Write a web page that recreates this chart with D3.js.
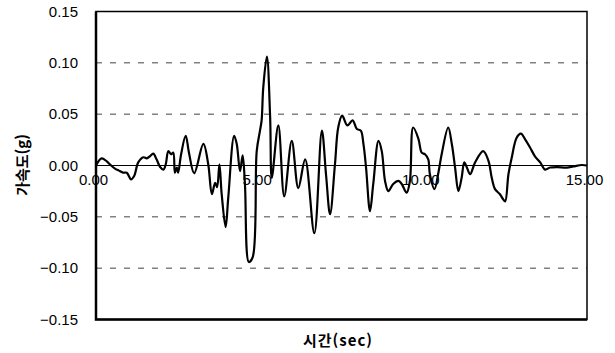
<!DOCTYPE html>
<html lang="ko">
<head>
<meta charset="utf-8">
<title>가속도 시간이력</title>
<script src="https://d3js.org/d3.v7.min.js"></script>
<style>
body { margin: 0; background: #fff; }
svg { display: block; }
.tick text { font-family: "Liberation Sans", Arial, sans-serif; font-size: 15px; fill: #000; }
.title { font-family: "Noto Sans CJK KR", sans-serif; font-size: 15px; font-weight: bold; fill: #000; }
</style>
</head>
<body>
<script>
// time (sec) and acceleration (g)
var times = [0, 0.17, 0.33, 0.43, 0.58, 0.70, 0.83, 0.94, 1.07, 1.17, 1.29, 1.45, 1.55, 1.65, 1.75, 1.85, 1.96, 2.06, 2.13, 2.21,
  2.29, 2.36, 2.41, 2.47, 2.51, 2.60, 2.74, 2.84, 3.00, 3.28, 3.43, 3.54, 3.64, 3.70, 3.77, 3.84, 3.96, 4.04, 4.22, 4.30,
  4.40, 4.48, 4.55, 4.67, 4.79, 4.91, 5.01, 5.06, 5.11, 5.22, 5.32, 5.37, 5.57, 5.75, 5.98, 6.18, 6.39, 6.67, 6.90, 7.03,
  7.15, 7.30, 7.40, 7.52, 7.68, 7.84, 7.97, 8.09, 8.17, 8.25, 8.37, 8.47, 8.63, 8.73, 8.83, 8.93, 9.08, 9.24, 9.34, 9.49,
  9.59, 9.69, 9.85, 9.95, 10.05, 10.15, 10.20, 10.34, 10.46, 10.56, 10.76, 10.87, 10.97, 11.07, 11.17, 11.25, 11.33, 11.43, 11.58, 11.83,
  11.99, 12.09, 12.19, 12.34, 12.44, 12.50, 12.60, 12.70, 12.85, 12.98, 13.11, 13.26, 13.41, 13.57, 13.72, 13.87, 14.08, 14.38, 14.58, 14.84, 15.00];
var accel = [0, 0.007, 0.004, 0.001, -0.003, -0.005, -0.007, -0.007, -0.0135, -0.010, 0.003, 0.008, 0.007, 0.009, 0.0115, 0.006, -0.0015, -0.004, 0.001, 0.014,
  0.011, 0.0125, -0.007, -0.002, -0.007, 0.011, 0.029, 0.0125, -0.0075, 0.021, 0.001, -0.028, -0.017, -0.021, 0.001, -0.028, -0.060, -0.0315, 0.029, 0.021,
  -0.0055, 0.010, -0.018, -0.094, -0.089, 0.014, 0.034, 0.044, 0.076, 0.106, 0.047, -0.012, 0.039, -0.030, 0.024, -0.022, 0.006, -0.066, 0.034, -0.010,
  -0.0475, 0.001, 0.037, 0.0485, 0.039, 0.044, 0.0355, 0.034, 0.021, -0.002, -0.0445, -0.018, 0.024, 0.014, -0.015, -0.025, -0.018, -0.015, -0.018, -0.0265,
  -0.015, 0.037, 0.026, 0.0125, 0.011, 0.006, -0.0085, -0.023, -0.007, 0.011, 0.037, 0.021, -0.002, -0.025, -0.012, 0.003, -0.002, -0.0085, 0.003, 0.014,
  0.0045, -0.012, -0.023, -0.028, -0.033, -0.035, -0.0085, 0.0075, 0.027, 0.031, 0.0255, 0.0175, 0.009, 0.003, -0.004, -0.002, -0.0015, -0.002, -0.001, 0.0005, 0];

var yTicks = [-0.15, -0.10, -0.05, 0.00, 0.05, 0.10, 0.15];
var xTicks = [0, 5, 10, 15];
var gridLines = [-0.10, -0.05, 0.05, 0.10];

var width = 615, height = 353;
var margin = {top: 11.5, right: 28, bottom: 33.5, left: 96};

var svg = d3.select("body").append("svg")
    .attr("width", width)
    .attr("height", height);

var x = d3.scaleLinear().domain([0, 15]).range([margin.left, width - margin.right]);
var y = d3.scaleLinear().domain([-0.15, 0.15]).range([height - margin.bottom, margin.top]);

// dashed gridlines
svg.selectAll(".grid")
    .data(gridLines)
    .enter().append("line")
    .attr("class", "grid")
    .attr("x1", x(0)).attr("x2", x(15))
    .attr("y1", function(d) { return y(d); })
    .attr("y2", function(d) { return y(d); })
    .attr("stroke", "#444")
    .attr("stroke-width", 1)
    .attr("stroke-dasharray", "6,8");

// zero line
svg.append("line")
    .attr("x1", x(0)).attr("x2", x(15))
    .attr("y1", y(0)).attr("y2", y(0))
    .attr("stroke", "#000")
    .attr("stroke-width", 1);

// y axis labels
var yAxis = d3.axisLeft(y)
    .tickValues(yTicks)
    .tickSize(0)
    .tickPadding(18)
    .tickFormat(function(d) { return d3.format(".2f")(d).replace("-", "\u2212"); });
svg.append("g")
    .attr("transform", "translate(" + margin.left + ",0)")
    .call(yAxis)
    .call(function(g) { g.select(".domain").remove(); });

// x labels sit under the zero line
var xAxis = d3.axisBottom(x)
    .tickValues(xTicks)
    .tickSize(0)
    .tickPadding(9)
    .tickFormat(d3.format(".2f"));
svg.append("g")
    .attr("transform", "translate(-3," + y(0) + ")")
    .call(xAxis)
    .call(function(g) { g.select(".domain").remove(); });

// frame
svg.append("rect")
    .attr("x", x(0)).attr("y", y(0.15))
    .attr("width", x(15) - x(0))
    .attr("height", y(-0.15) - y(0.15))
    .attr("fill", "none")
    .attr("stroke", "#000")
    .attr("stroke-width", 1.5);
svg.append("path")
    .attr("d", "M" + x(0) + "," + y(0.15) + "V" + y(-0.15) + "H" + x(15))
    .attr("fill", "none")
    .attr("stroke", "#000")
    .attr("stroke-width", 2.5);

// series
var pts = times.map(function(t, i) { return [t, accel[i]]; });
var line = d3.line()
    .curve(d3.curveCatmullRom.alpha(0.5))
    .x(function(d) { return x(d[0]); })
    .y(function(d) { return y(d[1]); });
svg.append("path")
    .datum(pts)
    .attr("d", line)
    .attr("fill", "none")
    .attr("stroke", "#000")
    .attr("stroke-width", 2.2)
    .attr("stroke-linejoin", "round");

// axis titles
svg.append("text")
    .attr("class", "title")
    .attr("x", 338).attr("y", 346)
    .attr("text-anchor", "middle")
    .style("letter-spacing", "1px")
    .text("시간(sec)");

svg.append("text")
    .attr("class", "title")
    .attr("transform", "translate(28,165) rotate(-90)")
    .attr("text-anchor", "middle")
    .text("가속도(g)");
</script>
</body>
</html>
